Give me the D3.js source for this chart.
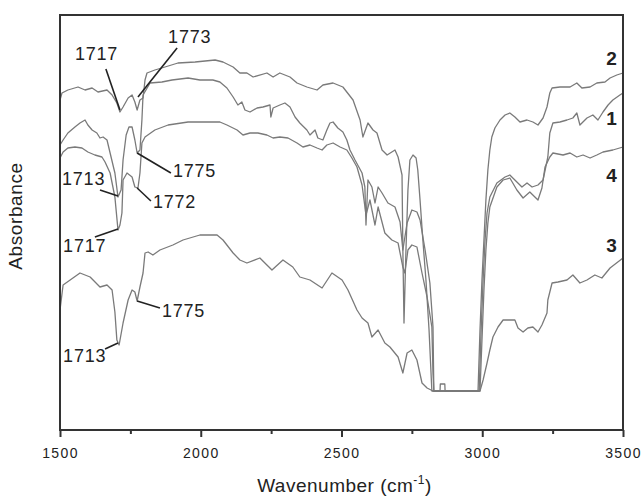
<!DOCTYPE html>
<html>
<head>
<meta charset="utf-8">
<script src="https://cdn.jsdelivr.net/npm/d3@7"></script>
<style>
  body { margin: 0; background: #fff; }
  svg text { font-family: "Liberation Sans", Arial, sans-serif; fill: #222; }
</style>
</head>
<body>
<svg id="chart" width="642" height="496"></svg>
<script>
// FTIR spectra, 4 samples, stacked (absorbance in arbitrary units)
const xTicks = [1500, 2000, 2500, 3000, 3500];
const xMinorTicks = [1750, 2250, 2750, 3250];

// [wavenumber, absorbance]
const spectrum2 = [
  [1500,3.30],[1507,3.37],[1528,3.40],[1564,3.43],[1589,3.40],[1614,3.42],[1635,3.38],[1667,3.40],
  [1685,3.35],[1702,3.27],[1713,3.18],[1724,3.23],[1742,3.32],[1756,3.35],[1766,3.28],[1774,3.20],
  [1784,3.30],[1795,3.32],[1802,3.50],[1809,3.57],[1837,3.60],[1873,3.63],[1919,3.67],[1980,3.68],
  [2051,3.70],[2079,3.68],[2115,3.63],[2139,3.57],[2164,3.57],[2186,3.53],[2235,3.57],[2257,3.53],
  [2281,3.57],[2317,3.53],[2342,3.47],[2377,3.43],[2413,3.40],[2434,3.45],[2470,3.47],[2505,3.43],
  [2541,3.30],[2566,3.10],[2576,2.93],[2594,3.07],[2612,3.00],[2626,2.97],[2644,2.80],[2662,2.75],
  [2690,2.80],[2701,2.73],[2715,2.55],[2718,1.80],[2722,1.07],[2729,1.80],[2736,2.40],[2743,2.70],
  [2754,2.75],[2765,2.72],[2771,2.60],[2779,2.30],[2789,1.90],[2800,1.50],[2811,1.00],[2821,0.39],
  [2985,0.39],[2992,1.00],[2999,1.50],[3006,1.90],[3013,2.30],[3020,2.60],[3027,2.80],[3034,2.93],
  [3045,3.02],[3063,3.10],[3081,3.15],[3098,3.17],[3116,3.13],[3134,3.08],[3159,3.10],[3180,3.08],
  [3198,3.05],[3216,3.12],[3230,3.23],[3240,3.37],[3248,3.42],[3276,3.43],[3312,3.43],[3336,3.47],
  [3354,3.42],[3383,3.43],[3407,3.47],[3436,3.48],[3454,3.52],[3478,3.55],[3500,3.57]
];

const spectrum1 = [
  [1500,2.85],[1511,2.90],[1528,2.97],[1553,3.03],[1571,3.07],[1589,3.10],[1599,3.05],[1614,3.00],
  [1631,2.97],[1642,2.92],[1653,2.93],[1667,2.90],[1678,2.77],[1695,2.57],[1706,2.33],[1717,2.40],
  [1724,2.70],[1735,2.95],[1745,3.03],[1756,3.03],[1766,2.90],[1774,2.77],[1784,2.80],[1791,3.10],
  [1795,3.35],[1820,3.47],[1862,3.48],[1898,3.50],[1955,3.52],[1997,3.50],[2043,3.50],[2068,3.48],
  [2093,3.42],[2115,3.33],[2132,3.25],[2146,3.28],[2157,3.20],[2175,3.18],[2200,3.22],[2221,3.23],
  [2246,3.25],[2249,3.13],[2257,3.22],[2281,3.25],[2299,3.27],[2317,3.23],[2335,3.13],[2352,3.07],
  [2377,3.00],[2388,2.95],[2406,3.00],[2416,2.92],[2434,2.90],[2448,3.00],[2459,3.07],[2470,3.08],
  [2487,3.02],[2505,2.98],[2519,2.90],[2530,2.80],[2548,2.70],[2573,2.57],[2583,2.43],[2587,2.05],
  [2594,2.50],[2608,2.43],[2619,2.27],[2630,2.43],[2644,2.37],[2665,2.27],[2690,2.23],[2708,2.08],
  [2718,1.80],[2733,2.07],[2750,2.20],[2768,2.18],[2779,2.10],[2797,1.80],[2814,1.47],[2825,1.03],
  [2828,0.39],[2989,0.39],[2996,1.00],[3003,1.50],[3010,1.90],[3017,2.17],[3027,2.33],[3052,2.47],
  [3081,2.53],[3098,2.55],[3123,2.48],[3141,2.43],[3159,2.47],[3177,2.43],[3198,2.45],[3216,2.50],
  [3233,2.73],[3240,2.97],[3251,3.07],[3276,3.08],[3301,3.10],[3322,3.12],[3336,3.17],[3347,3.05],
  [3372,3.12],[3393,3.15],[3411,3.10],[3429,3.18],[3447,3.25],[3464,3.30],[3489,3.35],[3500,3.37]
];

const spectrum4 = [
  [1500,2.72],[1511,2.78],[1528,2.82],[1553,2.83],[1578,2.82],[1599,2.78],[1624,2.75],[1649,2.73],
  [1660,2.68],[1678,2.57],[1695,2.33],[1706,2.00],[1713,2.05],[1720,2.17],[1724,2.50],[1738,2.57],
  [1756,2.53],[1766,2.43],[1777,2.42],[1784,2.57],[1791,2.87],[1802,2.93],[1837,3.00],[1884,3.05],
  [1955,3.08],[1997,3.08],[2068,3.08],[2093,3.05],[2129,3.00],[2150,2.95],[2175,2.97],[2203,2.97],
  [2235,2.95],[2257,2.92],[2281,2.93],[2310,2.92],[2342,2.87],[2363,2.83],[2388,2.85],[2413,2.82],
  [2431,2.80],[2448,2.85],[2470,2.87],[2495,2.83],[2519,2.80],[2537,2.72],[2555,2.63],[2573,2.45],
  [2587,2.15],[2601,2.30],[2619,2.05],[2630,2.23],[2654,1.97],[2679,1.90],[2701,1.87],[2718,1.63],
  [2725,1.57],[2736,1.80],[2750,1.85],[2768,1.83],[2786,1.57],[2804,1.33],[2821,1.03],[2825,0.57],
  [2828,0.39],[2992,0.39],[2999,0.90],[3006,1.40],[3013,1.80],[3020,2.07],[3027,2.23],[3052,2.43],
  [3074,2.50],[3098,2.52],[3123,2.40],[3145,2.32],[3169,2.38],[3187,2.33],[3198,2.30],[3212,2.42],
  [3223,2.63],[3240,2.73],[3251,2.77],[3287,2.75],[3312,2.77],[3336,2.73],[3358,2.75],[3383,2.72],
  [3407,2.75],[3429,2.78],[3464,2.80],[3500,2.83]
];

const spectrum3 = [
  [1500,1.20],[1511,1.45],[1536,1.50],[1571,1.57],[1607,1.53],[1642,1.43],[1667,1.45],[1685,1.40],
  [1695,1.18],[1702,0.90],[1710,0.85],[1724,1.07],[1742,1.30],[1756,1.40],[1766,1.38],[1774,1.29],
  [1784,1.43],[1795,1.57],[1802,1.77],[1813,1.78],[1830,1.75],[1855,1.80],[1901,1.85],[1937,1.90],
  [1997,1.95],[2058,1.95],[2079,1.90],[2115,1.77],[2139,1.70],[2164,1.67],[2210,1.72],[2253,1.60],
  [2292,1.70],[2327,1.63],[2352,1.53],[2388,1.50],[2431,1.42],[2466,1.57],[2502,1.50],[2523,1.40],
  [2555,1.20],[2573,1.12],[2594,1.07],[2608,0.93],[2630,1.00],[2654,0.87],[2672,0.83],[2701,0.73],
  [2718,0.57],[2733,0.77],[2750,0.80],[2768,0.70],[2786,0.47],[2804,0.42],[2825,0.39],[2850,0.39],
  [2851,0.46],[2867,0.46],[2868,0.39],[2992,0.39],[3003,0.50],[3017,0.67],[3027,0.80],[3038,0.93],
  [3056,1.03],[3074,1.10],[3116,1.10],[3127,1.02],[3145,0.98],[3162,1.02],[3180,1.03],[3198,0.98],
  [3212,1.05],[3230,1.17],[3233,1.30],[3248,1.47],[3269,1.48],[3301,1.50],[3322,1.55],[3347,1.47],
  [3372,1.50],[3400,1.55],[3425,1.52],[3454,1.62],[3500,1.72]
];

const spectra = [
  { id: "2", values: spectrum2, labelY: 3.65 },
  { id: "1", values: spectrum1, labelY: 3.05 },
  { id: "4", values: spectrum4, labelY: 2.48 },
  { id: "3", values: spectrum3, labelY: 1.78 }
];

// peak labels: text, label anchor (wn, abs), leader start, leader end (on the curve)
const peakLabels = [
  { text: "1717", at: [1553, 3.70], from: [1663, 3.61], to: [1713, 3.20] },
  { text: "1773", at: [1884, 3.87], from: [1916, 3.82], to: [1777, 3.33] },
  { text: "1775", at: [1901, 2.53], from: [1894, 2.57], to: [1774, 2.77] },
  { text: "1772", at: [1830, 2.22], from: [1823, 2.29], to: [1774, 2.42] },
  { text: "1713", at: [1507, 2.45], from: [1642, 2.40], to: [1706, 2.34] },
  { text: "1717", at: [1511, 1.78], from: [1624, 1.93], to: [1706, 2.01] },
  { text: "1775", at: [1862, 1.13], from: [1855, 1.22], to: [1774, 1.29] },
  { text: "1713", at: [1511, 0.68], from: [1660, 0.81], to: [1706, 0.87] }
];

const width = 642, height = 496;
const margin = { top: 15, right: 19, bottom: 66, left: 60 };

const svg = d3.select("#chart");

const x = d3.scaleLinear()
  .domain([1500, 3500])
  .range([margin.left, width - margin.right]);

const y = d3.scaleLinear()
  .domain([0, 4.15])
  .range([height - margin.bottom, margin.top]);

const line = d3.line()
  .x(d => x(d[0]))
  .y(d => y(d[1]));

// Spectra
svg.append("g")
  .selectAll("path")
  .data(spectra)
  .join("path")
  .attr("fill", "none")
  .attr("stroke", "#7a7a7a")
  .attr("stroke-width", 1.3)
  .attr("stroke-linejoin", "round")
  .attr("d", d => line(d.values));

// Frame
svg.append("rect")
  .attr("x", margin.left)
  .attr("y", margin.top)
  .attr("width", width - margin.left - margin.right)
  .attr("height", height - margin.top - margin.bottom)
  .attr("fill", "none")
  .attr("stroke", "#333")
  .attr("stroke-width", 2);

// X axis, major + minor ticks
const xAxis = svg.append("g")
  .attr("transform", `translate(0,${height - margin.bottom})`)
  .call(d3.axisBottom(x).tickValues(xTicks).tickSize(7).tickPadding(11).tickFormat(d3.format("d")));

xAxis.select(".domain").remove();
xAxis.selectAll(".tick line").attr("stroke", "#333").attr("stroke-width", 2);
xAxis.selectAll(".tick text")
  .style("font-size", "14px")
  .style("letter-spacing", "1.4px")
  .attr("fill", "#333");

const xMinor = svg.append("g")
  .attr("transform", `translate(0,${height - margin.bottom})`)
  .call(d3.axisBottom(x).tickValues(xMinorTicks).tickSize(4).tickFormat(""));
xMinor.select(".domain").remove();
xMinor.selectAll(".tick line").attr("stroke", "#333").attr("stroke-width", 2);

// Axis titles
const xTitle = svg.append("text")
  .attr("x", (margin.left + width - margin.right) / 2 + 3)
  .attr("y", 492)
  .attr("text-anchor", "middle")
  .style("font-size", "19px")
  .style("letter-spacing", "0.5px");
xTitle.append("tspan").text("Wavenumber (cm");
xTitle.append("tspan").attr("dy", -8).style("font-size", "12px").text("-1");
xTitle.append("tspan").attr("dy", 8).text(")");

svg.append("text")
  .attr("transform", "rotate(-90)")
  .attr("x", -216)
  .attr("y", 22)
  .attr("text-anchor", "middle")
  .style("font-size", "19px")
  .style("letter-spacing", "0.6px")
  .text("Absorbance");

// Peak leader lines and labels
const ann = svg.append("g");
ann.selectAll("line")
  .data(peakLabels)
  .join("line")
  .attr("x1", d => x(d.from[0]))
  .attr("y1", d => y(d.from[1]))
  .attr("x2", d => x(d.to[0]))
  .attr("y2", d => y(d.to[1]))
  .attr("stroke", "#222")
  .attr("stroke-width", 1.6);

ann.selectAll("text")
  .data(peakLabels)
  .join("text")
  .attr("x", d => x(d.at[0]))
  .attr("y", d => y(d.at[1]))
  .style("font-size", "18px")
  .style("letter-spacing", "0.8px")
  .text(d => d.text);

// Sample numbers at the right
svg.append("g")
  .selectAll("text")
  .data(spectra)
  .join("text")
  .attr("x", x(3478))
  .attr("y", d => y(d.labelY))
  .attr("text-anchor", "end")
  .style("font-size", "19px")
  .style("font-weight", "bold")
  .text(d => d.id);
</script>
</body>
</html>
